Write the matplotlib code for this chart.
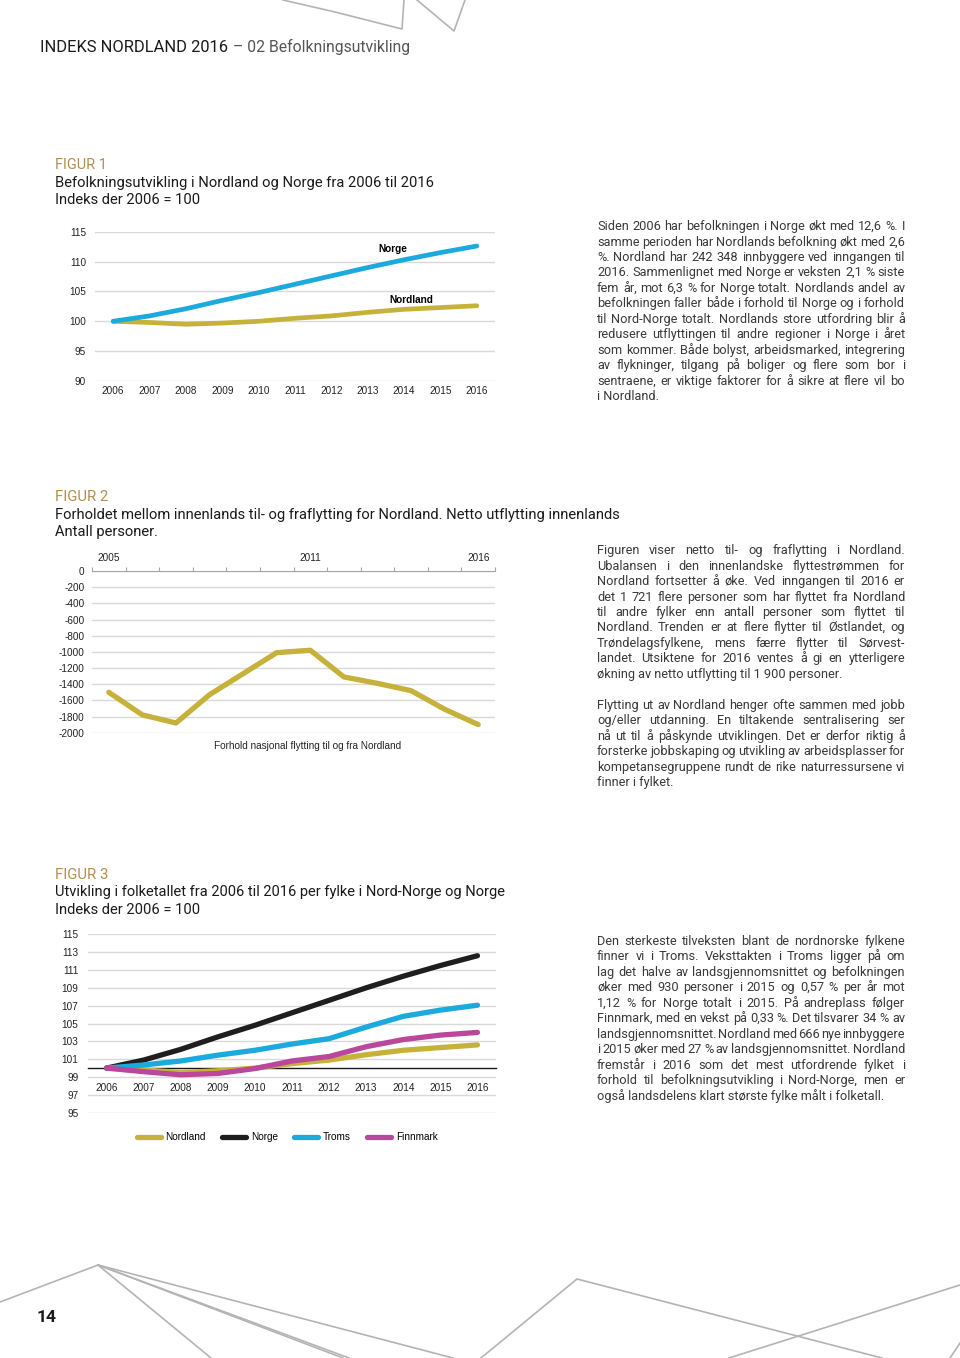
import matplotlib
matplotlib.use("Agg")
import matplotlib.pyplot as plt
import numpy as np
from matplotlib.font_manager import FontProperties

plt.rcParams["axes.unicode_minus"] = False

W, H = 960, 1358

# ---------------- data ----------------
years = [2006, 2007, 2008, 2009, 2010, 2011, 2012, 2013, 2014, 2015, 2016]
norge_idx = [100, 100.9, 102.1, 103.5, 104.8, 106.2, 107.6, 109.0, 110.3, 111.5, 112.6]
nordland_idx = [100, 99.8, 99.5, 99.7, 100.0, 100.5, 100.9, 101.5, 102.0, 102.3, 102.6]
troms_idx = [100, 100.35, 100.8, 101.45, 102.0, 102.7, 103.3, 104.6, 105.8, 106.5, 107.05]
finnmark_idx = [100, 99.6, 99.25, 99.4, 99.95, 100.8, 101.3, 102.4, 103.2, 103.7, 104.0]

flytt_years = [2005, 2006, 2007, 2008, 2009, 2010, 2011, 2012, 2013, 2014, 2015, 2016]
netto_flytting = [-1500, -1780, -1880, -1530, -1270, -1010, -980, -1310, -1390, -1480, -1710, -1900]
flytt_labels_at = [2005, 2011, 2016]

fig1_yticks = [90, 95, 100, 105, 110, 115]
fig2_yticks = list(range(-2000, 1, 200))
fig3_yticks = list(range(95, 116, 2))

tekst1 = [
    "Siden 2006 har befolkningen i Norge økt med 12,6 %. I",
    "samme perioden har Nordlands befolkning økt med 2,6",
    "%. Nordland har 242 348 innbyggere ved inngangen til",
    "2016. Sammenlignet med Norge er veksten 2,1 % siste",
    "fem år, mot 6,3 % for Norge totalt. Nordlands andel av",
    "befolkningen faller både i forhold til Norge og i forhold",
    "til Nord-Norge totalt. Nordlands store utfordring blir å",
    "redusere utflyttingen til andre regioner i Norge i året",
    "som kommer. Både bolyst, arbeidsmarked, integrering",
    "av flykninger, tilgang på boliger og flere som bor i",
    "sentraene, er viktige faktorer for å sikre at flere vil bo",
    "i Nordland.",
]
tekst2 = [
    "Figuren viser netto til- og fraflytting i Nordland.",
    "Ubalansen i den innenlandske flyttestrømmen for",
    "Nordland fortsetter å øke. Ved inngangen til 2016 er",
    "det 1 721 flere personer som har flyttet fra Nordland",
    "til andre fylker enn antall personer som flyttet til",
    "Nordland. Trenden er at flere flytter til Østlandet, og",
    "Trøndelagsfylkene, mens færre flytter til Sørvest-",
    "landet. Utsiktene for 2016 ventes å gi en ytterligere",
    "økning av netto utflytting til 1 900 personer.",
    "",
    "Flytting ut av Nordland henger ofte sammen med jobb",
    "og/eller utdanning. En tiltakende sentralisering ser",
    "nå ut til å påskynde utviklingen. Det er derfor riktig å",
    "forsterke jobbskaping og utvikling av arbeidsplasser for",
    "kompetansegruppene rundt de rike naturressursene vi",
    "finner i fylket.",
]
tekst3 = [
    "Den sterkeste tilveksten blant de nordnorske fylkene",
    "finner vi i Troms. Veksttakten i Troms ligger på om",
    "lag det halve av landsgjennomsnittet og befolkningen",
    "øker med 930 personer i 2015 og 0,57 % per år mot",
    "1,12 % for Norge totalt i 2015.  På andreplass følger",
    "Finnmark, med en vekst på 0,33 %. Det tilsvarer 34 % av",
    "landsgjennomsnittet. Nordland med 666 nye innbyggere",
    "i 2015 øker med 27 % av landsgjennomsnittet. Nordland",
    "fremstår i 2016 som det mest utfordrende fylket i",
    "forhold til befolkningsutvikling i Nord-Norge, men er",
    "også landsdelens klart største fylke målt i folketall.",
]

# ---------------- style ----------------
GOLD = "#c6b23a"
BLUE = "#1ba9de"
BLACK = "#1e1e1e"
MAGENTA = "#b9479c"
GRID = "#d9d9d9"
CAPTION = "#b08e50"
BODY = "#3a3a3a"
DECO = "#b4b4b4"
SANS = ["Liberation Sans", "DejaVu Sans"]
ROBOTO = ["Roboto", "DejaVu Sans"]

fig = plt.figure(figsize=(W / 100, H / 100), dpi=100)
r = fig.canvas.get_renderer()

# overlay in pixel coordinates for page elements
ov = fig.add_axes([0, 0, 1, 1], zorder=0)
ov.set_xlim(0, W)
ov.set_ylim(H, 0)
ov.axis("off")


def px_axes(x0, y0, x1, y1):
    return fig.add_axes([x0 / W, 1 - y1 / H, (x1 - x0) / W, (y1 - y0) / H], zorder=2)


def fit_text(x, y, s, width, **kw):
    t = ov.text(x, y, s, fontsize=10, ha="left", va="center", **kw)
    w = t.get_window_extent(r).width
    t.set_fontsize(10 * width / w)
    return t


def baseline_fix(word, y, size):
    # Agg rounds each text bitmap to whole pixels; predict where the baseline
    # lands for this word and return the integer shift that keeps a line even
    try:
        from matplotlib.backends.backend_agg import get_hinting_flag
        font = r._prepare_font(FontProperties(family=ROBOTO, size=size))
        font.set_text(word, 0, flags=get_hinting_flag())
        _, h26 = font.get_width_height()
        d26 = font.get_descent()
        pred = round(y + d26 / 64) - h26 // 64 + (h26 - d26) // 64
        return round(y) - pred
    except Exception:
        return 0


def justified(lines, x0, x1, y0, dy, size):
    n = len(lines)
    base = size * 100 / 72 * 0.36   # baseline below line centre, px
    for i, line in enumerate(lines):
        if not line:
            continue
        y = y0 + i * dy + base
        last = (i == n - 1) or (lines[i + 1] == "")
        words = line.split()
        kw = dict(fontsize=size, family=ROBOTO, color=BODY, va="baseline", ha="left")
        if last or len(words) < 2:
            ov.text(x0, y, line, **kw)
            continue
        ts = [ov.text(0, y + baseline_fix(w, y, size), w, **kw) for w in words]
        ws = [t.get_window_extent(r).width for t in ts]
        gap = (x1 - x0 - sum(ws)) / (len(words) - 1)
        x = x0
        for t, w in zip(ts, ws):
            t.set_x(x)
            x += w + gap


# ---------------- decorative lines ----------------
deco = [
    [(283, 0), (335, 12), (402, 29), (404, 0)],
    [(417, 0), (454, 31), (465, 0)],
    [(0, 1302), (98, 1265), (211, 1358)],
    [(98, 1265), (343, 1358)],
    [(98, 1265), (349, 1358)],
    [(98, 1265), (453, 1358)],
    [(481, 1358), (577, 1279), (882, 1358)],
    [(729, 1358), (960, 1285)],
    [(960, 1343), (950, 1358)],
]
for seg in deco:
    xs, ys = zip(*seg)
    ov.plot(xs, ys, color=DECO, lw=1.2)

# ---------------- headings ----------------
fit_text(40, 47, "INDEKS NORDLAND 2016", 187, family=ROBOTO, color="#1a1a1a")
fit_text(233, 47, "– 02 Befolkningsutvikling", 177, family=ROBOTO, color="#555555")
ov.text(37, 1317, "14", fontsize=12.5, family=ROBOTO, weight="bold", color="#1a1a1a", va="center")

fit_text(55, 165, "FIGUR 1", 52, family=ROBOTO, color=CAPTION)
t = fit_text(55, 183, "Befolkningsutvikling i Nordland og Norge fra 2006 til 2016", 377, family=ROBOTO, color="#1a1a1a")
hs = t.get_fontsize()
ov.text(55, 200, "Indeks der 2006 = 100", fontsize=hs, family=ROBOTO, color="#1a1a1a", va="center")

fit_text(55, 497, "FIGUR 2", 53, family=ROBOTO, color=CAPTION)
t = fit_text(55, 515, "Forholdet mellom innenlands til- og fraflytting for Nordland. Netto utflytting innenlands",
             565, family=ROBOTO, color="#1a1a1a")
ov.text(55, 532, "Antall personer.", fontsize=t.get_fontsize(), family=ROBOTO, color="#1a1a1a", va="center")

fit_text(55, 875, "FIGUR 3", 53, family=ROBOTO, color=CAPTION)
fit_text(55, 892, "Utvikling i folketallet fra 2006 til 2016 per fylke i Nord-Norge og Norge", 451,
         family=ROBOTO, color="#1a1a1a")
ov.text(55, 910, "Indeks der 2006 = 100", fontsize=hs, family=ROBOTO, color="#1a1a1a", va="center")

# ---------------- body text (justified) ----------------
probe = ov.text(0, 0, tekst1[5], fontsize=10, family=ROBOTO)
body_size = 10 * 306 / probe.get_window_extent(r).width
probe.remove()
justified(tekst1, 597, 905, 225.5, 15.45, body_size)
justified(tekst2, 597, 905, 549.5, 15.48, body_size)
justified(tekst3, 597, 905, 940, 15.5, body_size)

TICKFS = 7.2
x_idx = np.arange(len(years))

# ---------------- figur 1 ----------------
ax1 = px_axes(95, 231.7, 495, 381)
ax1.plot(x_idx, nordland_idx, color=GOLD, lw=3.4, solid_capstyle="round", zorder=3)
ax1.plot(x_idx, norge_idx, color=BLUE, lw=3.4, solid_capstyle="round", zorder=3)
ax1.set_xlim(-0.5, len(years) - 0.5)
ax1.set_ylim(90, 115)
ax1.set_yticks(fig1_yticks)
ax1.set_xticks(x_idx, [str(y) for y in years])
ax1.grid(axis="y", color=GRID, lw=1)
ax1.set_axisbelow(True)
for s in ax1.spines.values():
    s.set_visible(False)
ax1.tick_params(length=0, labelsize=TICKFS, colors="#222222")
ax1.tick_params(axis="y", pad=6.5)
ax1.tick_params(axis="x", pad=3.5)
for lab in ax1.get_xticklabels() + ax1.get_yticklabels():
    lab.set_family(SANS)
ax1.text(7.69, 112.1, "Norge", fontsize=TICKFS, weight="bold", family=SANS, ha="center", va="center")
ax1.text(8.2, 103.5, "Nordland", fontsize=TICKFS, weight="bold", family=SANS, ha="center", va="center")

# ---------------- figur 2 ----------------
ax2 = px_axes(92, 571, 495, 732.7)
fx = np.arange(len(flytt_years))
ax2.plot(fx, netto_flytting, color=GOLD, lw=3.8, solid_capstyle="round", zorder=3)
ax2.set_xlim(-0.5, len(flytt_years) - 0.5)
ax2.set_ylim(-2000, 0)
ax2.set_yticks(fig2_yticks)
ax2.grid(axis="y", color=GRID, lw=1)
ax2.set_axisbelow(True)
for k, s in ax2.spines.items():
    s.set_visible(k == "top")
ax2.spines["top"].set_color("#a6a6a6")
ax2.xaxis.tick_top()
ax2.set_xticks(np.arange(-0.5, len(flytt_years), 1))
ax2.set_xticklabels([])
ax2.set_xticks([flytt_years.index(y) for y in flytt_labels_at], [str(y) for y in flytt_labels_at], minor=True)
ax2.tick_params(axis="x", which="major", length=3, color="#a6a6a6", direction="out")
ax2.tick_params(axis="x", which="minor", length=0, pad=6, labelsize=TICKFS, colors="#222222",
                top=True, bottom=False, labeltop=True, labelbottom=False)
ax2.tick_params(axis="y", length=0, pad=5.5, labelsize=TICKFS, colors="#222222")
for lab in ax2.get_xticklabels(minor=True) + ax2.get_yticklabels():
    lab.set_family(SANS)
ov.text(308, 746, "Forhold nasjonal flytting til og fra Nordland", fontsize=TICKFS, family=SANS,
        color="#222222", ha="center", va="center")

# ---------------- figur 3 ----------------
ax3 = px_axes(88, 934.3, 496, 1112.7)
series = [("Nordland", nordland_idx, GOLD), ("Norge", norge_idx, BLACK),
          ("Troms", troms_idx, BLUE), ("Finnmark", finnmark_idx, MAGENTA)]
for name, vals, col in series:
    ax3.plot(x_idx, vals, color=col, lw=3.8, solid_capstyle="round", label=name, zorder=3)
ax3.set_xlim(-0.5, len(years) - 0.5)
ax3.set_ylim(95, 115)
ax3.set_yticks(fig3_yticks)
ax3.set_xticks(x_idx, [str(y) for y in years])
ax3.grid(axis="y", color=GRID, lw=1)
ax3.set_axisbelow(True)
for k, s in ax3.spines.items():
    s.set_visible(k == "bottom")
ax3.spines["bottom"].set_position(("data", 100))
ax3.spines["bottom"].set_color("#1a1a1a")
ax3.spines["bottom"].set_linewidth(1)
ax3.tick_params(length=0, labelsize=TICKFS, colors="#222222")
ax3.tick_params(axis="y", pad=7)
ax3.tick_params(axis="x", pad=10.5)
for lab in ax3.get_xticklabels() + ax3.get_yticklabels():
    lab.set_family(SANS)
leg = ax3.legend(loc="center", bbox_to_anchor=(287 / W, 1 - 1137 / H), bbox_transform=fig.transFigure,
                 ncol=4, frameon=False, handlelength=2.4, handletextpad=0.5, columnspacing=1.6,
                 prop={"family": SANS, "size": TICKFS})

fig.savefig("out.png", dpi=100)
